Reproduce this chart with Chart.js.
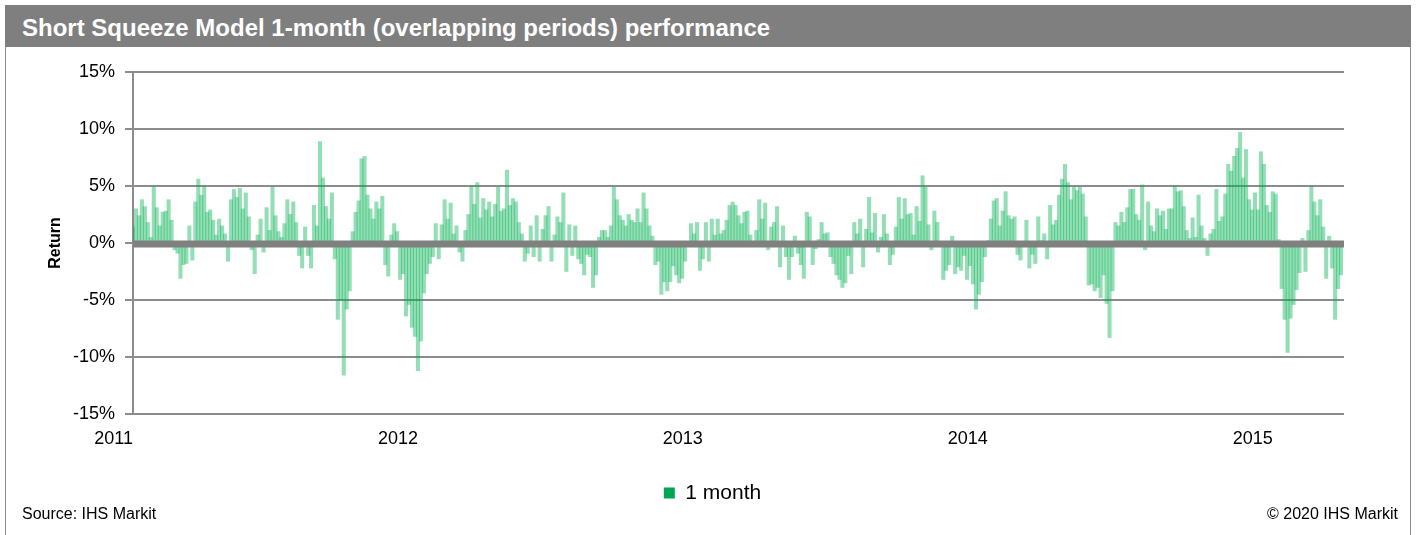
<!DOCTYPE html>
<html>
<head>
<meta charset="utf-8">
<title>Short Squeeze Model 1-month performance</title>
<script src="https://cdn.jsdelivr.net/npm/chart.js@4.4.1/dist/chart.umd.min.js"></script>
<style>
  body { margin: 0; background: #fff; font-family: "Liberation Sans", Arial, sans-serif; }
  #frame { position: absolute; left: 5px; top: 5px; width: 1404px; height: 540px;
           border-left: 1px solid #8c8c8c; border-right: 1px solid #8c8c8c; }
  #header { position: absolute; left: 5px; top: 5px; width: 1406px; height: 42px;
            box-sizing: border-box; padding-left: 17px; padding-top: 2px; background: #7f7f7f; color: #fff;
            font-weight: bold; font-size: 24px; line-height: 42px; white-space: nowrap; }
  #wrap { position: absolute; left: 5px; top: 48px; width: 1405px; height: 487px; }
  .foot { position: absolute; top: 505px; font-size: 16px; color: #000; }
</style>
</head>
<body>
<div id="frame"></div>
<div id="header">Short Squeeze Model 1-month (overlapping periods) performance</div>
<div id="wrap"><canvas id="squeezeChart" width="1405" height="487"></canvas></div>
<div class="foot" style="left:22px">Source: IHS Markit</div>
<div class="foot" style="right:18px">© 2020 IHS Markit</div>

<script>
// 1-month returns (%) at 8 readings per month
const years = [2011, 2012, 2013, 2014, 2015];
const perYear = 96;

const ret2011 = [
  1.4, 3.0, 2.4, 3.8, 3.2, 1.8, 0.5, 4.9,
  3.1, 1.5, 2.7, 2.8, 3.8, 2.0, -0.6, -0.9,
  -3.1, -1.9, -1.8, 1.5, -1.5, 3.6, 5.6, 4.2,
  5.0, 2.7, 2.9, 2.0, 0.7, 2.1, 1.5, 0.8,
  -1.6, 3.8, 4.7, 4.0, 4.8, 3.0, 4.4, 2.3,
  -0.6, -2.7, 0.7, 2.1, -0.8, 3.1, 1.1, 4.9,
  2.4, 1.0, 0.5, 1.7, 3.8, 2.5, 3.6, 1.8,
  -1.1, -2.2, 1.4, -1.1, -2.2, 3.3, 1.5, 8.9,
  5.7, 3.2, 2.1, 4.4, -1.4, -6.7, -5.0, -11.6,
  -5.8, -4.2, 1.0, 2.7, 3.7, 7.4, 7.6, 4.2,
  3.0, 2.1, 3.6, 3.0, 4.1, -1.9, -2.9, 0.7,
  1.7, 1.0, -3.2, -2.7, -6.4, -5.4, -7.4, -8.2,
];

const ret2012 = [
  -11.2, -8.6, -4.4, -2.7, -1.8, -1.2, 1.7, -1.4,
  1.6, 3.8, 2.1, 3.5, 0.8, 1.5, -0.8, -1.6,
  1.1, 2.5, 5.0, 3.4, 5.3, 2.2, 3.9, 2.9,
  3.6, 2.3, 3.4, 4.9, 2.8, 3.0, 6.4, 3.3,
  3.9, 3.6, 1.8, 0.8, -1.6, -0.9, 1.5, -1.2,
  2.4, -1.6, 1.2, 2.4, 3.2, -1.6, 0.7, 2.3,
  1.8, 4.4, -2.5, 1.6, -1.1, 1.5, -1.4, -1.8,
  -2.8, -1.0, -1.2, -3.9, -2.8, 0.5, 1.1, 1.1,
  0.5, 1.5, 4.9, 3.8, 2.4, 2.0, 1.5, 2.5,
  2.0, 1.8, 3.0, 1.8, 4.4, 3.0, 1.5, 0.6,
  -1.9, -1.6, -4.5, -3.4, -4.2, -3.4, -2.0, -2.8,
  -3.5, -3.1, -1.6, -0.3, 1.7, 0.8, 1.8, -2.4,
];

const ret2013 = [
  -1.4, 1.8, -1.6, 2.1, 0.7, 2.1, 0.8, 1.1,
  2.0, 3.3, 3.6, 3.3, 2.4, 1.7, 2.7, 2.8,
  0.7, 0.1, 1.1, 3.8, 2.1, 3.5, -0.6, 1.4,
  1.8, 3.2, -2.1, 1.5, -1.2, -3.2, -1.2, 0.6,
  -0.9, -1.9, -3.1, 2.7, 2.3, -1.9, -0.5, 0.3,
  1.8, 0.8, 0.9, -1.2, -1.8, -2.8, -3.2, -3.9,
  -3.5, -1.1, -2.7, 1.8, 0.8, 2.1, -2.1, 1.2,
  4.0, 0.9, 2.6, -0.8, 0.5, 2.5, 0.8, -1.9,
  -1.0, 1.4, 4.0, 2.1, 3.9, 2.5, 2.6, 0.7,
  3.2, 1.9, 5.9, 4.9, 1.6, -0.6, 2.8, 1.8,
  0.1, -3.2, -2.4, -1.9, 0.6, -2.7, -2.1, -2.4,
  -1.1, -3.2, -2.0, -3.6, -5.8, -4.5, -3.4, -1.2,
];

const ret2014 = [
  0.2, 2.1, 3.7, 3.9, 1.5, 2.8, 4.5, 2.4,
  2.1, 2.3, -1.0, -1.5, -0.3, 2.0, -2.2, -1.0,
  -1.8, 2.3, 0.2, 0.8, -1.4, 3.3, 1.6, 2.0,
  4.2, 5.6, 6.9, 5.3, 3.8, 4.9, 4.6, 4.9,
  4.3, 2.3, -3.7, -3.6, -4.2, -3.9, -4.8, -2.8,
  -5.3, -8.3, -4.2, 1.8, 1.5, 2.7, 1.8, 3.1,
  4.7, 4.7, 2.5, 2.0, 5.1, -0.6, 3.6, 1.5,
  1.0, 3.0, 2.4, 2.8, 1.2, 3.0, 3.0, 5.0,
  4.5, 4.6, 3.2, 1.1, 0.4, 2.2, 0.5, 4.2,
  1.5, 0.4, -1.1, 0.8, 1.2, 4.7, 1.9, 2.3,
  4.3, 6.9, 6.3, 7.6, 8.3, 9.7, 5.7, 8.2,
  3.8, 2.9, 4.4, 2.9, 8.0, 6.9, 3.3, 2.7,
];

const ret2015 = [
  4.5, 4.3, 0.3, -4.0, -6.7, -9.6, -6.6, -5.4,
  -4.1, -2.6, 0.4, -2.5, 1.1, 5.0, 3.6, 2.4,
  3.8, 1.4, -3.1, 0.6, -2.2, -6.7, -4.0, -2.8,
];

const yTicks = [-15, -10, -5, 0, 5, 10, 15];

const series = [ret2011, ret2012, ret2013, ret2014, ret2015];
const points = [];
series.forEach((vals, k) => {
  vals.forEach((v, j) => points.push({ x: years[k] + j / perYear, y: v }));
});

// thick grey line along 0%, drawn over the bars like the original
const zeroLine = {
  id: "zeroLine",
  afterDatasetsDraw(chart) {
    const { ctx, chartArea, scales } = chart;
    const y = scales.y.getPixelForValue(0);
    ctx.save();
    ctx.strokeStyle = "#808080";
    ctx.lineWidth = 7;
    ctx.beginPath();
    ctx.moveTo(chartArea.left, y + 1);
    ctx.lineTo(chartArea.right, y + 1);
    ctx.stroke();
    ctx.restore();
  },
};

// the legend sits under the middle of the whole panel, not the plot
const legendShift = {
  id: "legendShift",
  afterLayout(chart) {
    chart.legend.left += 38;
    chart.legend.right += 38;
  },
};

const ctxSqueeze = document.getElementById("squeezeChart").getContext("2d");
const squeezeChart = new Chart(ctxSqueeze, {
  type: "bar",
  data: {
    datasets: [
      {
        label: "1 month",
        data: points,
        backgroundColor: "rgba(0, 176, 80, 0.42)",
        borderWidth: 0,
        barThickness: 3.4,
      },
    ],
  },
  options: {
    responsive: false,
    animation: false,
    devicePixelRatio: 1,
    layout: { padding: { top: 24, bottom: 21.5, left: 0, right: 66 } },
    scales: {
      x: {
        type: "linear",
        min: years[0],
        max: 2015.25,
        offset: false,
        grid: { display: false, drawTicks: false },
        border: { display: false },
        ticks: {
          stepSize: 1,
          includeBounds: false,
          autoSkip: false,
          maxRotation: 0,
          align: "end",
          padding: 14,
          color: "#000",
          font: { family: "Liberation Sans", size: 18 },
          callback: (v) => (Number.isInteger(v) ? String(v) : null),
        },
        afterFit: (s) => {
          s.height = 58.5;
        },
      },
      y: {
        min: yTicks[0],
        max: yTicks[yTicks.length - 1],
        grid: { color: "#8c8c8c", lineWidth: 2, tickLength: 8 },
        border: { color: "#8c8c8c", width: 2 },
        ticks: {
          stepSize: 5,
          padding: 10,
          color: "#000",
          font: { family: "Liberation Sans", size: 18 },
          callback: (v) => v + "%",
        },
        title: {
          display: true,
          text: "Return",
          color: "#000",
          font: { family: "Liberation Sans", size: 16, weight: "bold" },
          padding: { top: 41, bottom: 0 },
        },
        afterFit: (s) => {
          s.width = 128;
        },
      },
    },
    plugins: {
      legend: {
        position: "bottom",
        labels: {
          boxWidth: 11,
          boxHeight: 11,
          padding: 10,
          color: "#000",
          font: { family: "Liberation Sans", size: 21 },
          generateLabels: (chart) => {
            const items = Chart.defaults.plugins.legend.labels.generateLabels(chart);
            items.forEach((it) => {
              it.fillStyle = "#00a651";
              it.strokeStyle = "#00a651";
              it.lineWidth = 0;
            });
            return items;
          },
        },
      },
      tooltip: { enabled: false },
    },
  },
  plugins: [zeroLine, legendShift],
});
</script>
</body>
</html>
